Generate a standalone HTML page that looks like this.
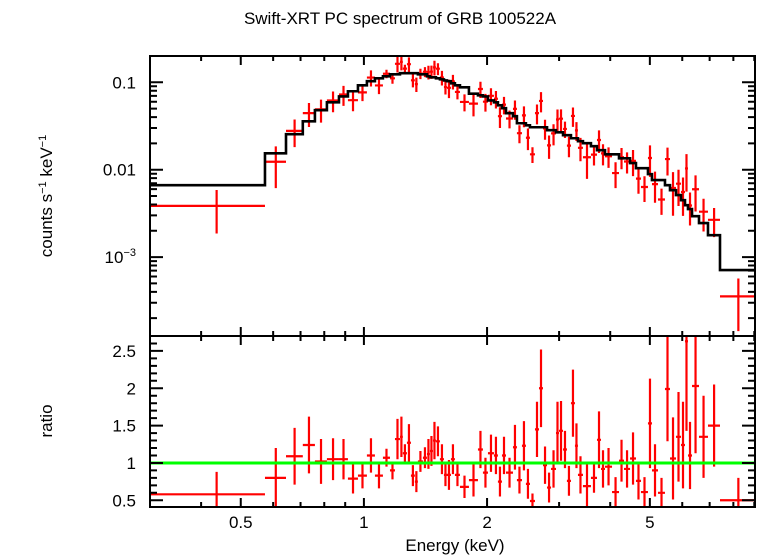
<!DOCTYPE html>
<html><head><meta charset="utf-8"><style>
html,body{margin:0;padding:0;background:#fff;}
svg{display:block;font-family:"Liberation Sans",sans-serif;}
</style></head><body>
<svg id="chart" width="758" height="556" viewBox="0 0 758 556" xmlns="http://www.w3.org/2000/svg">
<text x="400" y="24" font-size="17" text-anchor="middle">Swift-XRT PC spectrum of GRB 100522A</text>
<text transform="translate(52,196) rotate(-90)" font-size="17" text-anchor="middle">counts s<tspan font-size="11" dy="-6">−1</tspan><tspan dy="6"> keV</tspan><tspan font-size="11" dy="-6">−1</tspan></text>
<text transform="translate(52,421) rotate(-90)" font-size="17" text-anchor="middle">ratio</text>
<text x="455" y="551" font-size="17" text-anchor="middle">Energy (keV)</text>
<g id="plot"></g>
</svg>
<script>
const edges=[0.300,0.573,0.645,0.709,0.759,0.812,0.869,0.914,0.967,1.017,1.064,1.113,1.158,1.191,1.225,1.245,1.274,1.303,1.332,1.355,1.394,1.426,1.450,1.475,1.500,1.534,1.569,1.596,1.632,1.669,1.717,1.806,1.900,1.954,2.010,2.079,2.126,2.175,2.225,2.314,2.366,2.434,2.489,2.546,2.619,2.679,2.740,2.803,2.867,2.948,2.998,3.067,3.135,3.207,3.280,3.336,3.431,3.589,3.713,3.798,3.884,4.041,4.203,4.323,4.472,4.624,4.756,4.947,5.060,5.234,5.444,5.600,5.792,5.958,6.093,6.197,6.339,6.593,6.935,7.420,9.036];
const model=[0.00665,0.0154,0.0255,0.0358,0.048,0.059,0.069,0.079,0.0924,0.103,0.111,0.117,0.1234,0.1234,0.127,0.127,0.127,0.127,0.127,0.1234,0.1234,0.117,0.114,0.114,0.111,0.108,0.105,0.103,0.0974,0.0924,0.0877,0.074,0.071,0.069,0.062,0.059,0.0546,0.0505,0.0443,0.041,0.034,0.034,0.0322,0.0306,0.0306,0.0306,0.0306,0.0283,0.0283,0.0268,0.0268,0.0248,0.0248,0.0229,0.0229,0.0212,0.0201,0.0186,0.0167,0.0167,0.0150,0.0150,0.0135,0.0135,0.0119,0.0104,0.0104,0.0089,0.0076,0.0076,0.00665,0.00583,0.00512,0.00448,0.00393,0.00354,0.00294,0.00245,0.00178,0.00071];
const ratio=[0.58,0.8,1.09,1.24,1.02,1.05,1.05,0.79,0.83,1.1,0.83,1.07,0.9,1.32,1.35,1.13,1.27,0.83,0.75,1.02,1.07,1.12,1.16,1.3,1.29,1.05,0.84,0.84,1.05,0.84,0.68,0.77,1.18,0.87,1.13,1.1,0.75,1.1,0.87,1.21,0.77,1.23,0.72,0.49,1.45,2.0,0.97,0.67,0.92,1.4,1.43,1.18,0.76,1.8,1.23,0.84,0.69,0.8,1.31,0.92,0.95,0.61,1.03,0.92,1.06,0.76,0.61,1.53,0.9,0.6,1.99,1.06,1.35,1.24,2.63,1.1,2.03,1.35,1.5,0.5];
const ratioErr=[0.3,0.4,0.38,0.38,0.3,0.28,0.27,0.2,0.17,0.23,0.17,0.12,0.12,0.27,0.27,0.12,0.25,0.14,0.14,0.14,0.14,0.2,0.2,0.25,0.2,0.2,0.15,0.2,0.2,0.15,0.15,0.22,0.25,0.2,0.25,0.25,0.2,0.25,0.2,0.3,0.18,0.33,0.2,0.1,0.37,0.52,0.25,0.2,0.25,0.42,0.4,0.25,0.2,0.45,0.3,0.25,0.3,0.2,0.38,0.25,0.25,0.2,0.28,0.25,0.35,0.25,0.2,0.6,0.35,0.2,0.7,0.55,0.6,0.58,1.2,0.45,0.9,0.55,0.55,0.3];
const xTickLabels=[0.5,1,2,5];
const topTickLabels=[0.1,0.01,0.001];
const ratioTickLabels=[0.5,1,1.5,2,2.5];

const L=150,R=755,T1=56,B1=336,T2=336,B2=507;
const xMin=0.3,xMax=9.036;
const yMinLog=Math.log10(1.25e-4),yMaxLog=Math.log10(0.2);
const rMin=0.41,rMax=2.7;
const X=e=>L+(Math.log10(e)-Math.log10(xMin))/(Math.log10(xMax)-Math.log10(xMin))*(R-L);
const Y=v=>{if(v<=0)return B1+5;return B1-(Math.log10(v)-yMinLog)/(yMaxLog-yMinLog)*(B1-T1);};
const YR=r=>B2-(r-rMin)/(rMax-rMin)*(B2-T2);
const NS="http://www.w3.org/2000/svg";
const g=document.getElementById('plot');
function mk(tag,attrs,parent){const el=document.createElementNS(NS,tag);for(const k in attrs)el.setAttribute(k,attrs[k]);(parent||g).appendChild(el);return el;}
const clipC=v=>Math.max(T1,Math.min(B1,v));
const clipR=v=>Math.max(T2,Math.min(B2,v));

const dTop=mk('g',{});


const dBot=mk('g',{});


for(let i=0;i<model.length;i++){
  const lo=edges[i],hi=edges[i+1],c=(lo+hi)/2;
  const v=ratio[i]*model[i],ev=ratioErr[i]*model[i];
  const p=mk('path',{d:`M${X(lo)},${clipC(Y(v))}H${X(hi)}M${X(c)},${clipC(Y(v+ev))}V${clipC(Y(v-ev))}`,stroke:'#f00','stroke-width':2.2,fill:'none'},dTop);
  
  
  const q=mk('path',{d:`M${X(lo)},${clipR(YR(ratio[i]))}H${X(hi)}M${X(c)},${clipR(YR(ratio[i]+ratioErr[i]))}V${clipR(YR(ratio[i]-ratioErr[i]))}`,stroke:'#f00','stroke-width':2.2,fill:'none'},dBot);
  
  
}
let d=`M${X(edges[0])},${Y(model[0])}`;
for(let i=0;i<model.length;i++){d+=`V${Y(model[i])}H${X(edges[i+1])}`;}
const m=mk('path',{d:d,stroke:'#000','stroke-width':2.6,fill:'none'});


const u=mk('line',{x1:L,x2:R,y1:YR(1),y2:YR(1),stroke:'#0f0','stroke-width':3});



const f1=mk('rect',{x:L,y:T1,width:R-L,height:B1-T1,fill:'none',stroke:'#000','stroke-width':2});


const f2=mk('rect',{x:L,y:T2,width:R-L,height:B2-T2,fill:'none',stroke:'#000','stroke-width':2});



let tk='';
const xticks=[0.3,0.4,0.5,0.6,0.7,0.8,0.9,1,2,3,4,5,6,7,8,9];
xticks.forEach(e=>{const x=X(e);const big=xTickLabels.includes(e);const len=big?9:5;
  tk+=`M${x},${T1}v${len}M${x},${B1}v${-len}M${x},${T2}v${len}M${x},${B2}v${-len}`;});
for(let dec=-4;dec<=-1;dec++){for(let k=1;k<=9;k++){const v=k*Math.pow(10,dec);const y=Y(v);if(y<T1||y>B1)continue;const len=k==1?13:7;
  tk+=`M${L},${y}h${len}M${R},${y}h${-len}`;}}
for(let r=0.5;r<=2.65;r+=0.1){const rr=Math.round(r*10)/10;const y=YR(rr);const big=Math.abs(rr*2-Math.round(rr*2))<1e-6;const len=big?13:7;
  tk+=`M${L},${y}h${len}M${R},${y}h${-len}`;}
const tp=mk('path',{d:tk,stroke:'#000','stroke-width':2,fill:'none'});



xTickLabels.forEach(e=>{const t=mk('text',{x:X(e),y:528,'font-size':17,'text-anchor':'middle'});t.textContent=String(e);
  
  });
topTickLabels.forEach(v=>{const t=mk('text',{x:L-14,y:Y(v)+6,'font-size':17,'text-anchor':'end'});
  if(v>=0.01)t.textContent=String(v);else{t.textContent='10';const s=mk('tspan',{'font-size':11,dy:-7},t);s.textContent='−3';}
  
  });
ratioTickLabels.forEach(r=>{const t=mk('text',{x:L-14,y:YR(r)+6,'font-size':17,'text-anchor':'end'});t.textContent=String(r);
  
  });
</script>
</body></html>
